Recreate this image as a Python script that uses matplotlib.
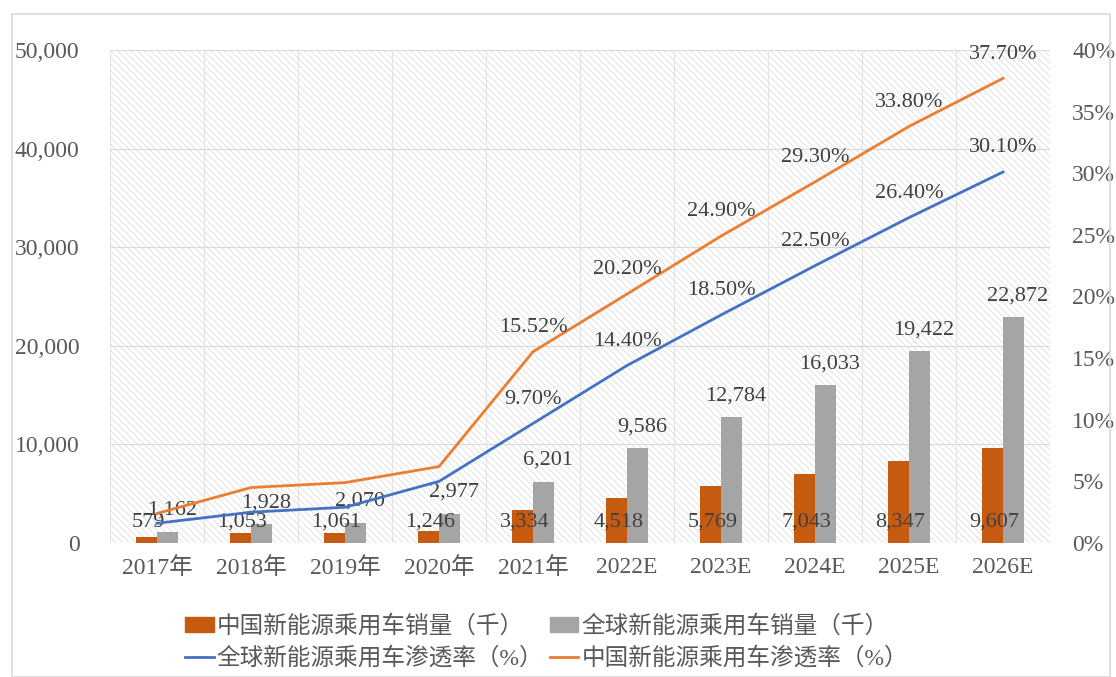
import matplotlib.pyplot as plt
from matplotlib.patches import Rectangle
from matplotlib.lines import Line2D
import numpy as np

plt.rcParams['font.family'] = ['Liberation Serif', 'Noto Sans CJK SC']
plt.rcParams['hatch.linewidth'] = 0.6
plt.rcParams['hatch.color'] = '#dedede'

years = ['2017年', '2018年', '2019年', '2020年', '2021年', '2022E', '2023E', '2024E', '2025E', '2026E']
china_sales = [579, 1053, 1061, 1246, 3334, 4518, 5769, 7043, 8347, 9607]
global_sales = [1162, 1928, 2070, 2977, 6201, 9586, 12784, 16033, 19422, 22872]
global_pen = [1.6, 2.5, 2.9, 5.0, 9.70, 14.40, 18.50, 22.50, 26.40, 30.10]
china_pen = [2.4, 4.5, 4.9, 6.2, 15.52, 20.20, 24.90, 29.30, 33.80, 37.70]
# only these points carry labels in the source
labeled_from = 4

c_china = '#C55A11'
c_global = '#A5A5A5'
c_blue = '#4472C4'
c_orange = '#ED7D31'
txt = '#595959'
lbl = '#404040'

fig = plt.figure(figsize=(11.16, 6.77), dpi=100)
fig.patches.append(Rectangle((12 / 1116, 0), 1098 / 1116, 663 / 677, transform=fig.transFigure,
                             fill=False, edgecolor='#d9d9d9', linewidth=1.2))
ax = fig.add_axes([110 / 1116, 1 - 543 / 677, 940 / 1116, 493 / 677])
ax2 = ax.twinx()

x = np.arange(len(years))
w = 0.22

# hatched background
ax.add_patch(Rectangle((-0.5, 0), len(years), 50000, facecolor='white', edgecolor='#dedede',
                       hatch='\\\\\\\\\\', linewidth=0, zorder=0))
for v in range(10000, 50001, 10000):
    ax.axhline(v, color='#d9d9d9', linewidth=0.8, zorder=1)
for b in np.arange(-0.5, len(years), 1.0):
    ax.axvline(b, color='#e3e3e3', linewidth=0.8, zorder=1)

ax.bar(x - w / 2, china_sales, w, color=c_china, zorder=2)
ax.bar(x + w / 2, global_sales, w, color=c_global, zorder=2)

for i in range(len(years)):
    ax.text(x[i] - w / 2 + 0.02, 2100, f'{china_sales[i]:,}', ha='center', va='center',
            fontsize=16, color=lbl, zorder=5)
    ax.text(x[i] + w / 2 + 0.05, global_sales[i] + 1200, f'{global_sales[i]:,}', ha='center',
            va='bottom', fontsize=16, color=lbl, zorder=5)

ax.set_xlim(-0.5, len(years) - 0.5)
ax.set_ylim(0, 50000)
ax.set_yticks(range(0, 50001, 10000))
ax.set_yticklabels([f'{v:,}' for v in range(0, 50001, 10000)])
ax.set_xticks(x)
ax.set_xticklabels(years)
ax.tick_params(axis='y', length=0, pad=22, labelsize=17, labelcolor=txt)
ax.tick_params(axis='x', length=0, pad=10, labelsize=17, labelcolor=txt)
for s in ax.spines.values():
    s.set_visible(False)

ax2.plot(x, global_pen, color=c_blue, linewidth=2, zorder=3)
ax2.plot(x, china_pen, color=c_orange, linewidth=2, zorder=3)
for i in range(labeled_from, len(years)):
    ax2.text(x[i], global_pen[i] + 1.2, f'{global_pen[i]:.2f}%', ha='center', va='bottom',
             fontsize=16, color=lbl)
    ax2.text(x[i], china_pen[i] + 1.2, f'{china_pen[i]:.2f}%', ha='center', va='bottom',
             fontsize=16, color=lbl)
ax2.set_ylim(0, 40)
ax2.set_yticks(range(0, 41, 5))
ax2.set_yticklabels([f'{v}%' for v in range(0, 41, 5)])
ax2.tick_params(axis='y', length=0, pad=16, labelsize=17, labelcolor=txt)
for s in ax2.spines.values():
    s.set_visible(False)

handles = [Rectangle((0, 0), 1, 1, color=c_china),
           Line2D([0], [0], color=c_blue, linewidth=2),
           Rectangle((0, 0), 1, 1, color=c_global),
           Line2D([0], [0], color=c_orange, linewidth=2)]
labels = ['中国新能源乘用车销量（千）', '全球新能源乘用车渗透率（%）',
          '全球新能源乘用车销量（千）', '中国新能源乘用车渗透率（%）']
leg = fig.legend(handles, labels, ncol=2, loc='lower left', bbox_to_anchor=(164 / 1116, -0.021),
                 frameon=False, fontsize=17, handlelength=1.2, handleheight=0.6,
                 handletextpad=0.12, columnspacing=0.3, labelspacing=0.4)
for t in leg.get_texts():
    t.set_color(txt)

fig.savefig('out.png', dpi=100)
